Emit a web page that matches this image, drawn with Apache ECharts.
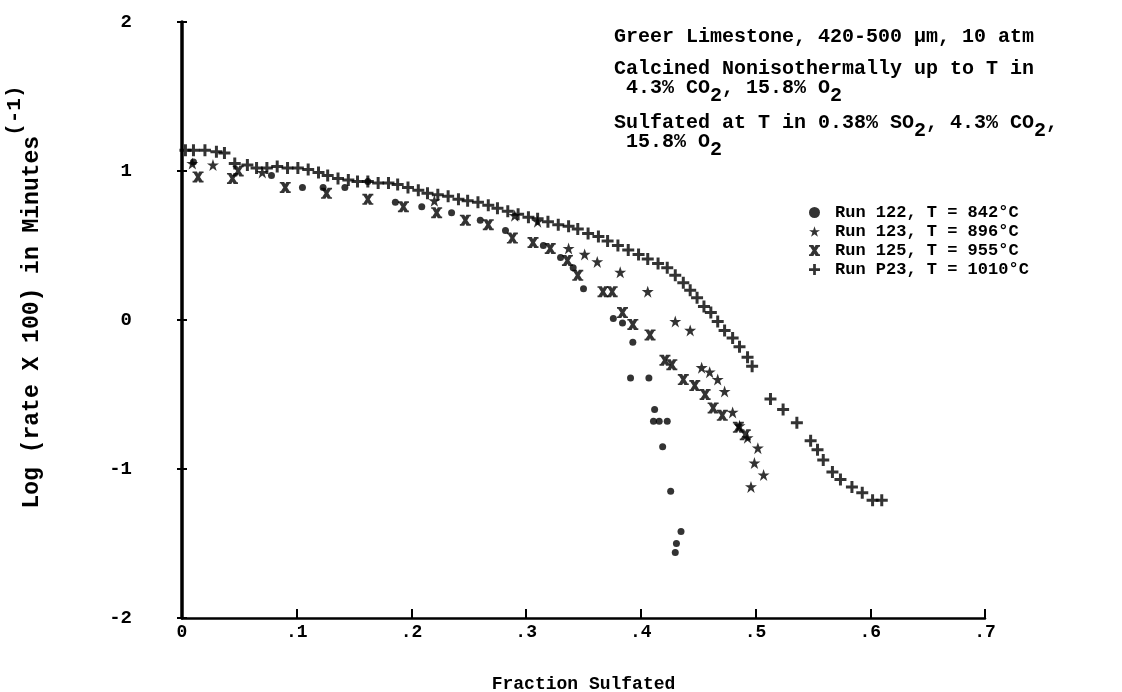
<!DOCTYPE html>
<html>
<head>
<meta charset="utf-8">
<script src="https://cdn.jsdelivr.net/npm/echarts@6/dist/echarts.min.js"></script>
<style>
  html, body { margin: 0; padding: 0; background: #fff; }
  #chart { width: 1122px; height: 692px; }
</style>
</head>
<body>
<div id="chart"></div>
<script>
// [fraction sulfated, log(rate x 100)]
var run122 = [
  [0.010, 1.06], [0.078, 0.97], [0.105, 0.89], [0.123, 0.89], [0.142, 0.89],
  [0.162, 0.93], [0.186, 0.79], [0.209, 0.76], [0.235, 0.72], [0.260, 0.67],
  [0.282, 0.60], [0.315, 0.50], [0.330, 0.42], [0.341, 0.35], [0.350, 0.21],
  [0.376, 0.01], [0.384, -0.02], [0.393, -0.15], [0.391, -0.39], [0.407, -0.39],
  [0.412, -0.60], [0.411, -0.68], [0.416, -0.68], [0.423, -0.68], [0.419, -0.85],
  [0.426, -1.15], [0.435, -1.42], [0.431, -1.50], [0.430, -1.56]
];
var run123 = [
  [0.009, 1.05], [0.027, 1.04], [0.070, 0.99], [0.220, 0.80], [0.290, 0.70],
  [0.310, 0.66], [0.337, 0.48], [0.351, 0.44], [0.362, 0.39], [0.382, 0.32],
  [0.406, 0.19], [0.430, -0.01], [0.443, -0.07], [0.453, -0.32], [0.460, -0.35],
  [0.467, -0.40], [0.473, -0.48], [0.480, -0.62], [0.486, -0.71], [0.493, -0.79],
  [0.502, -0.86], [0.499, -0.96], [0.507, -1.04], [0.496, -1.12]
];
var run125 = [
  [0.014, 0.96], [0.044, 0.95], [0.049, 1.00], [0.090, 0.89], [0.126, 0.85],
  [0.162, 0.81], [0.193, 0.76], [0.222, 0.72], [0.247, 0.67], [0.267, 0.64],
  [0.288, 0.55], [0.306, 0.52], [0.321, 0.48], [0.336, 0.40], [0.345, 0.30],
  [0.367, 0.19], [0.375, 0.19], [0.384, 0.05], [0.393, -0.03], [0.408, -0.10],
  [0.421, -0.27], [0.427, -0.30], [0.437, -0.40], [0.447, -0.44], [0.456, -0.50],
  [0.463, -0.59], [0.471, -0.64], [0.485, -0.72], [0.491, -0.77]
];
var runP23 = [
  [0.003, 1.14], [0.010, 1.14], [0.020, 1.14], [0.030, 1.13], [0.037, 1.12],
  [0.046, 1.05], [0.057, 1.04], [0.065, 1.02], [0.074, 1.02], [0.083, 1.03],
  [0.092, 1.02], [0.101, 1.02], [0.110, 1.01], [0.119, 0.99], [0.127, 0.97],
  [0.136, 0.95], [0.145, 0.94], [0.153, 0.93], [0.162, 0.93], [0.171, 0.92],
  [0.180, 0.92], [0.188, 0.91], [0.197, 0.89], [0.206, 0.87], [0.214, 0.85],
  [0.223, 0.84], [0.232, 0.83], [0.241, 0.81], [0.249, 0.80], [0.258, 0.79],
  [0.267, 0.77], [0.275, 0.75], [0.284, 0.73], [0.293, 0.71], [0.302, 0.69],
  [0.310, 0.68], [0.319, 0.66], [0.328, 0.64], [0.337, 0.63], [0.345, 0.61],
  [0.354, 0.58], [0.363, 0.56], [0.371, 0.53], [0.380, 0.50], [0.389, 0.47],
  [0.398, 0.44], [0.406, 0.41], [0.415, 0.38], [0.423, 0.35], [0.430, 0.30],
  [0.437, 0.25], [0.443, 0.20], [0.449, 0.15], [0.455, 0.09], [0.461, 0.05],
  [0.467, -0.01], [0.473, -0.07], [0.480, -0.12], [0.486, -0.18], [0.493, -0.25],
  [0.497, -0.31],
  [0.513, -0.53], [0.524, -0.60], [0.536, -0.69], [0.548, -0.81], [0.554, -0.87],
  [0.559, -0.94], [0.567, -1.02], [0.574, -1.07], [0.584, -1.12], [0.593, -1.16],
  [0.602, -1.21], [0.610, -1.21]
];
var seriesNames = ['Run 122, T = 842°C', 'Run 123, T = 896°C', 'Run 125, T = 955°C', 'Run P23, T = 1010°C'];
var xTicks = ['0', '.1', '.2', '.3', '.4', '.5', '.6', '.7'];

var font = 'Liberation Mono';
var noteFont = 'bold 20px "Liberation Mono"';
var starPath = 'path://M10,0 L12.4,7 L20,7 L13.8,11.4 L16.2,19 L10,14.4 L3.8,19 L6.2,11.4 L0,7 L7.6,7 Z';
var xPath = 'path://M0,0 L8,0 L10,4 L12,0 L20,0 L20,3 L18,3 L13.5,10 L18,17 L20,17 L20,20 L12,20 L10,16 L8,20 L0,20 L0,17 L2,17 L6.5,10 L2,3 L0,3 Z';
var plusPath = 'path://M7.5,0 L12.5,0 L12.5,7.5 L20,7.5 L20,12.5 L12.5,12.5 L12.5,20 L7.5,20 L7.5,12.5 L0,12.5 L0,7.5 L7.5,7.5 Z';
var subRich = { s: { font: noteFont, fill: '#000', padding: [15, 0, 0, 0] } };

var chart = echarts.init(document.getElementById('chart'));
chart.setOption({
  animation: false,
  backgroundColor: '#fff',
  grid: { left: 182, right: 137, top: 22, bottom: 74, outerBoundsMode: 'none', containLabel: false },
  legend: {
    orient: 'vertical',
    left: 809,
    top: 203,
    itemWidth: 11,
    itemHeight: 11,
    itemGap: 0,
    padding: 0,
    data: seriesNames,
    textStyle: { fontFamily: font, fontWeight: 'bold', fontSize: 17, lineHeight: 19, color: '#000', padding: [0, 0, 0, 10] }
  },
  xAxis: {
    type: 'value', min: 0, max: 0.7, interval: 0.1,
    name: 'Fraction Sulfated', nameLocation: 'middle', nameGap: 57,
    nameTextStyle: { fontFamily: font, fontWeight: 'bold', fontSize: 18, color: '#000' },
    axisLine: { onZero: false, lineStyle: { color: '#000', width: 2.5 } },
    axisTick: { inside: true, length: 9, lineStyle: { color: '#000', width: 2 } },
    axisLabel: {
      margin: 5, color: '#000', fontFamily: font, fontWeight: 'bold', fontSize: 18,
      formatter: function (v) { return xTicks[Math.round(v * 10)]; }
    },
    splitLine: { show: false }
  },
  yAxis: [{
    type: 'value', min: -2, max: 2, interval: 1,
    name: '{a|Log (rate X 100) in Minutes}{s|(-1)}', nameLocation: 'middle', nameGap: 138,
    nameTextStyle: {
      rich: {
        a: { fontFamily: font, fontWeight: 'bold', fontSize: 23, color: '#000', verticalAlign: 'bottom', lineHeight: 40, padding: [0, 0, 0, 46] },
        s: { fontFamily: font, fontWeight: 'bold', fontSize: 21, color: '#000', verticalAlign: 'top', lineHeight: 40 }
      }
    },
    axisLine: { onZero: false, lineStyle: { color: '#000', width: 3.5 } },
    axisTick: { length: 5, lineStyle: { color: '#000', width: 2 } },
    axisLabel: {
      margin: 50, color: '#000', fontFamily: font, fontWeight: 'bold', fontSize: 19,
      formatter: function (v) { return v < 0 ? '-' + Math.abs(v) : String(v); }
    },
    splitLine: { show: false }
  }, {
    type: 'value', min: -2, max: 2, interval: 1, position: 'left',
    axisLine: { show: false },
    axisTick: { inside: true, length: 5, lineStyle: { color: '#000', width: 2 } },
    axisLabel: { show: false },
    splitLine: { show: false }
  }],
  graphic: [
    { type: 'text', left: 614, top: 27, style: { text: 'Greer Limestone, 420-500 µm, 10 atm', font: noteFont, fill: '#000' } },
    { type: 'text', left: 614, top: 59, style: { text: 'Calcined Nonisothermally up to T in', font: noteFont, fill: '#000' } },
    { type: 'text', left: 614, top: 78, style: { text: ' 4.3% CO{s|2}, 15.8% O{s|2}', font: noteFont, fill: '#000', rich: subRich } },
    { type: 'text', left: 614, top: 113, style: { text: 'Sulfated at T in 0.38% SO{s|2}, 4.3% CO{s|2},', font: noteFont, fill: '#000', rich: subRich } },
    { type: 'text', left: 614, top: 132, style: { text: ' 15.8% O{s|2}', font: noteFont, fill: '#000', rich: subRich } }
  ],
  series: [
    { name: seriesNames[0], type: 'scatter', data: run122, symbol: 'circle', symbolSize: 7, itemStyle: { color: '#000' } },
    { name: seriesNames[1], type: 'scatter', data: run123, symbol: starPath, symbolSize: 12, itemStyle: { color: '#000' } },
    { name: seriesNames[2], type: 'scatter', data: run125, symbol: xPath, symbolSize: 11, itemStyle: { color: '#000' } },
    { name: seriesNames[3], type: 'scatter', data: runP23, symbol: plusPath, symbolSize: 12, itemStyle: { color: '#000' } }
  ]
});
</script>
</body>
</html>
